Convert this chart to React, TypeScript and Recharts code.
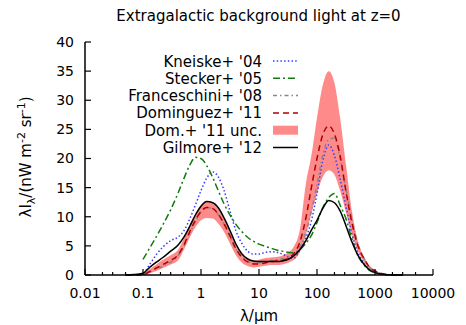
import { ComposedChart, Line, Area, XAxis, YAxis } from 'recharts'

// wavelength grid (micron)
const wavelength = [0.05, 0.07, 0.1, 0.13, 0.17, 0.22, 0.3, 0.4, 0.5, 0.65, 0.8, 1.0, 1.25, 1.6, 2, 2.5, 3.2, 4, 5, 6.5, 8, 10, 13, 16, 20, 25, 32, 40, 50, 65, 80, 100, 125, 160, 200, 250, 320, 400, 500, 650, 800, 1000, 1300, 1600, 2000, 3000]

const kneiske = [0, 0, 0.2, 1.8, 3.5, 4.8, 5.9, 6.5, 7.5, 9.8, 12.0, 14.5, 16.6, 17.7, 16.8, 14.5, 10.8, 7.6, 5.5, 4.0, 3.6, 3.6, 3.9, 4.0, 3.9, 3.6, 3.1, 2.9, 4.2, 6.5, 9.3, 14, 19.5, 22.3, 20.5, 16.5, 11.5, 7, 4, 2, 1, 0.5, 0.2, 0.05, 0, 0]

const stecker = [null, null, 2.7, 4.6, 6.6, 8.6, 11.2, 14.0, 16.4, 19.0, 20.2, 20.0, 18.8, 16.7, 14.4, 12.2, 10.2, 8.7, 7.5, 6.4, 5.8, 5.3, 4.9, 4.6, 4.3, 4.1, 3.9, 3.8, 4.3, 5.5, 6.8, 9.0, 11.5, 13.3, 14.0, 12.0, 9.5, 6.2, 3.5, 1.7, 0.8, 0.4, 0.15, 0.05, 0, 0]

const franceschini = [0, 0, 0.05, 0.5, 1.0, 1.5, 2.2, 3.3, 4.8, 7.3, 9.2, 10.8, 11.6, 11.4, 10.3, 8.7, 6.4, 4.4, 3.1, 2.3, 2.0, 2.1, 2.3, 2.5, 2.6, 2.8, 3.0, 3.5, 4.8, 7.5, 11, 15.5, 20.5, 23.3, 23.5, 20, 14.5, 9.5, 5.5, 2.8, 1.4, 0.6, 0.2, 0.05, 0, 0]

const dominguez = [0, 0, 0.05, 0.6, 1.2, 1.8, 2.5, 3.4, 5.0, 7.6, 9.4, 10.9, 11.6, 11.4, 10.4, 8.8, 6.6, 4.5, 3.1, 2.2, 1.9, 1.9, 2.1, 2.3, 2.4, 2.5, 2.9, 3.7, 5.5, 10, 15, 20, 24, 25.6, 24.2, 20.5, 14, 9, 5.2, 2.8, 1.4, 0.7, 0.25, 0.1, 0.03, 0]

const domLow = [0, 0, 0, 0.3, 0.7, 1.2, 1.8, 2.5, 4.2, 6.6, 8.2, 9.4, 9.8, 9.7, 8.8, 7.4, 5.3, 3.4, 2.2, 1.5, 1.3, 1.4, 1.6, 1.7, 1.7, 1.8, 2.1, 2.6, 3.8, 7.0, 10.5, 14, 16.8, 18, 17.2, 14.5, 10.5, 7, 4.2, 2.2, 1.1, 0.5, 0.15, 0.05, 0, 0]

const domHigh = [0, 0, 0.3, 1.0, 1.8, 2.6, 3.4, 4.3, 6.2, 8.8, 10.5, 12.0, 12.6, 12.4, 11.3, 9.7, 7.2, 5.0, 3.6, 2.8, 2.5, 2.6, 2.9, 3.0, 3.1, 3.3, 3.9, 4.9, 7.5, 16, 20.5, 27, 32.5, 35, 33, 27, 18.5, 11, 6, 3, 1.5, 0.8, 0.3, 0.1, 0.03, 0]

const gilmore = [0.02, 0.08, 0.3, 1.3, 2.2, 3.0, 4.1, 5.1, 6.4, 8.5, 10.3, 11.8, 12.6, 12.4, 11.5, 9.8, 7.5, 5.3, 3.7, 2.7, 2.4, 2.3, 2.3, 2.3, 2.3, 2.4, 2.7, 3.3, 4.3, 6.0, 7.7, 9.4, 11.4, 12.8, 12.4, 11.0, 8.3, 5.7, 3.5, 1.8, 0.9, 0.4, 0.15, 0.05, 0.02, 0]

const majorTicks = [0.01, 0.1, 1, 10, 100, 1000, 10000]
const minorSteps = [2, 3, 5]
const xTicks = majorTicks.flatMap(t => (t < 10000 ? [t, ...minorSteps.map(m => t * m)] : [t]))
const yTicks = [0, 5, 10, 15, 20, 25, 30, 35, 40]

const legendItems = [
  { name: "Kneiske+ '04", color: '#3a3aff', dash: '1.5 2.2', kind: 'line' },
  { name: "Stecker+ '05", color: '#117a11', dash: '7 3 2 3', kind: 'line' },
  { name: "Franceschini+ '08", color: '#888888', dash: '4 3 1.5 3', kind: 'line' },
  { name: "Dominguez+ '11", color: '#b00000', dash: '6 4', kind: 'line' },
  { name: "Dom.+ '11 unc.", color: '#ff8a8a', dash: '', kind: 'band' },
  { name: "Gilmore+ '12", color: '#000000', dash: '', kind: 'line' },
]

const FONT = '"DejaVu Sans", sans-serif'

const rows = wavelength.map((lam, i) => ({
  lam,
  kneiske: kneiske[i],
  stecker: stecker[i],
  franceschini: franceschini[i],
  dominguez: dominguez[i],
  unc: [domLow[i], domHigh[i]],
  gilmore: gilmore[i],
}))

const fmt = (v: number) => (v < 1 ? String(v) : v.toFixed(0))

function BottomTick(props: any) {
  const { x, y, payload } = props
  const major = majorTicks.includes(payload.value)
  return (
    <g>
      <line x1={x} x2={x} y1={y} y2={y - (major ? 6 : 3)} stroke="#000" strokeWidth={1.2} />
      {major && (
        <text x={x} y={y + 22.5} textAnchor="middle" fontSize={14} fontFamily={FONT} fill="#000">
          {fmt(payload.value)}
        </text>
      )}
    </g>
  )
}

function TopTick(props: any) {
  const { x, y, payload } = props
  const major = majorTicks.includes(payload.value)
  return <line x1={x} x2={x} y1={y} y2={y + (major ? 6 : 3)} stroke="#000" strokeWidth={1.2} />
}

export default function App() {
  return (
    <div style={{ position: 'absolute', left: 0, top: 0, width: 466, height: 325, background: '#fff' }}>
      <ComposedChart width={466} height={325} data={rows} margin={{ top: 42, right: 33, bottom: 0, left: 45 }}>
        <XAxis
          dataKey="lam"
          type="number"
          scale="log"
          domain={[0.01, 10000]}
          allowDataOverflow
          ticks={xTicks}
          interval={0}
          height={50}
          tickLine={false}
          tickSize={0}
          tickMargin={0}
          tick={<BottomTick />}
          axisLine={{ stroke: '#000', strokeWidth: 1.5 }}
          label={{ value: 'λ/μm', position: 'insideBottom', offset: 4, fontSize: 15, fontFamily: FONT, fill: '#000' }}
        />
        <XAxis
          xAxisId="top"
          orientation="top"
          dataKey="lam"
          type="number"
          scale="log"
          domain={[0.01, 10000]}
          allowDataOverflow
          ticks={xTicks}
          interval={0}
          height={0}
          tickLine={false}
          tickSize={0}
          tickMargin={0}
          tick={<TopTick />}
          axisLine={{ stroke: '#000', strokeWidth: 1.5 }}
        />
        <YAxis
          type="number"
          domain={[0, 40]}
          ticks={yTicks}
          interval={0}
          width={40}
          tickSize={-6}
          tickMargin={17}
          tickLine={{ stroke: '#000', strokeWidth: 1.2 }}
          axisLine={{ stroke: '#000', strokeWidth: 1.5 }}
          tick={{ fontSize: 14, fontFamily: FONT, fill: '#000' }}
        />
        <YAxis
          yAxisId="right"
          orientation="right"
          type="number"
          domain={[0, 40]}
          ticks={yTicks}
          interval={0}
          width={0}
          tickSize={-6}
          tick={false}
          tickLine={{ stroke: '#000', strokeWidth: 1.2 }}
          axisLine={{ stroke: '#000', strokeWidth: 1.5 }}
        />
        <Area dataKey="unc" type="monotone" fill="#ff8a8a" fillOpacity={1} stroke="none" isAnimationActive={false} />
        <Line dataKey="kneiske" type="monotone" stroke="#3a3aff" strokeWidth={1.5} strokeDasharray="1.5 2.2" dot={false} isAnimationActive={false} />
        <Line dataKey="stecker" type="monotone" stroke="#117a11" strokeWidth={1.5} strokeDasharray="7 3 2 3" dot={false} isAnimationActive={false} />
        <Line dataKey="franceschini" type="monotone" stroke="#888888" strokeWidth={1.5} strokeDasharray="4 3 1.5 3" dot={false} isAnimationActive={false} />
        <Line dataKey="dominguez" type="monotone" stroke="#b00000" strokeWidth={1.5} strokeDasharray="6 4" dot={false} isAnimationActive={false} />
        <Line dataKey="gilmore" type="monotone" stroke="#000" strokeWidth={1.5} dot={false} isAnimationActive={false} />
      </ComposedChart>

      <svg width={466} height={325} style={{ position: 'absolute', left: 0, top: 0, pointerEvents: 'none' }} fontFamily={FONT}>
        <text x={258.5} y={21} textAnchor="middle" fontSize={15} fill="#000">
          Extragalactic background light at z=0
        </text>
        <text transform="translate(31,157) rotate(-90)" textAnchor="middle" fontSize={15} fill="#000">
          λI<tspan dy={4} fontSize={11}>λ</tspan>
          <tspan dy={-4}>/(nW m</tspan>
          <tspan dy={-6} fontSize={11}>-2</tspan>
          <tspan dy={6}> sr</tspan>
          <tspan dy={-6} fontSize={11}>-1</tspan>
          <tspan dy={6}>)</tspan>
        </text>
        {legendItems.map((item, i) => {
          const cy = 61 + i * 17.3
          return (
            <g key={item.name}>
              <text x={262} y={cy + 5.5} textAnchor="end" fontSize={15} fill="#000">
                {item.name}
              </text>
              {item.kind === 'band' ? (
                <rect x={273} y={cy - 4.5} width={25} height={9} fill={item.color} />
              ) : (
                <line x1={273} x2={298} y1={cy} y2={cy} stroke={item.color} strokeWidth={1.5} strokeDasharray={item.dash || undefined} />
              )}
            </g>
          )
        })}
      </svg>
    </div>
  )
}
